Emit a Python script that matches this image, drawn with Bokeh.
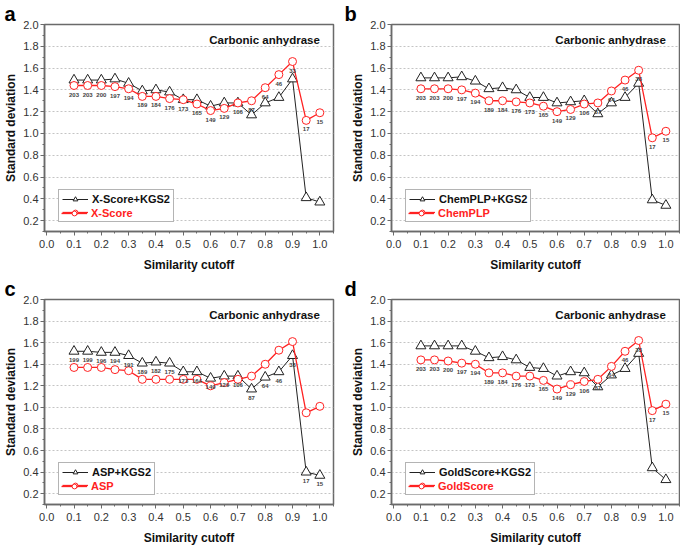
from bokeh.plotting import figure
from bokeh.models import (Legend, LegendItem, Label, Title, FixedTicker,
                          PrintfTickFormatter, Range1d)
from bokeh.layouts import column, row
from bokeh.embed import file_html
from bokeh.resources import INLINE
from bokeh.core.properties import value

# ---------------- data ----------------
cutoff = [0.10, 0.15, 0.20, 0.25, 0.30, 0.35, 0.40, 0.45, 0.50, 0.55,
          0.60, 0.65, 0.70, 0.75, 0.80, 0.85, 0.90, 0.95, 1.00]

xscore_kgs2 = [1.49, 1.49, 1.49, 1.50, 1.46, 1.39, 1.40, 1.38, 1.31, 1.31,
               1.25, 1.28, 1.28, 1.17, 1.28, 1.33, 1.50, 0.41, 0.37]
xscore = [1.44, 1.44, 1.44, 1.43, 1.41, 1.34, 1.34, 1.32, 1.31, 1.27,
          1.21, 1.23, 1.28, 1.30, 1.42, 1.54, 1.66, 1.12, 1.19]
counts_a = [203, 203, 200, 197, 194, 189, 184, 176, 173, 165,
            149, 129, 106, 87, 64, 46, 33, 17, 15]

chemplp_kgs2 = [1.51, 1.51, 1.51, 1.52, 1.48, 1.41, 1.42, 1.40, 1.33, 1.33,
                1.28, 1.29, 1.30, 1.18, 1.28, 1.33, 1.46, 0.39, 0.34]
chemplp = [1.41, 1.41, 1.41, 1.40, 1.37, 1.30, 1.30, 1.29, 1.28, 1.25,
           1.20, 1.22, 1.27, 1.28, 1.39, 1.49, 1.58, 0.96, 1.02]
counts_b = [203, 203, 200, 197, 194, 189, 184, 176, 173, 165,
            149, 129, 106, 87, 64, 46, 33, 17, 15]

asp_kgs2 = [1.52, 1.52, 1.51, 1.51, 1.48, 1.41, 1.42, 1.41, 1.33, 1.33,
            1.27, 1.29, 1.29, 1.17, 1.28, 1.33, 1.48, 0.40, 0.37]
asp = [1.37, 1.37, 1.37, 1.35, 1.34, 1.26, 1.26, 1.26, 1.26, 1.26,
       1.20, 1.23, 1.26, 1.29, 1.40, 1.53, 1.61, 0.95, 1.01]
counts_c = [199, 199, 196, 194, 191, 189, 182, 175, 173, 164,
            149, 129, 106, 87, 64, 46, 33, 17, 15]

goldscore_kgs2 = [1.57, 1.57, 1.57, 1.57, 1.52, 1.46, 1.47, 1.44, 1.37, 1.36,
                  1.29, 1.33, 1.32, 1.19, 1.30, 1.36, 1.50, 0.44, 0.33]
goldscore = [1.44, 1.44, 1.43, 1.41, 1.40, 1.32, 1.32, 1.29, 1.29, 1.25,
             1.17, 1.21, 1.24, 1.26, 1.38, 1.52, 1.62, 0.97, 1.03]
counts_d = [203, 203, 200, 197, 194, 189, 184, 176, 173, 165,
            149, 129, 106, 87, 64, 46, 33, 17, 15]

x_ticks = [0.0, 0.1, 0.2, 0.3, 0.4, 0.5, 0.6, 0.7, 0.8, 0.9, 1.0]
x_minor = [0.05, 0.15, 0.25, 0.35, 0.45, 0.55, 0.65, 0.75, 0.85, 0.95, 1.05]
y_ticks = [0.2, 0.4, 0.6, 0.8, 1.0, 1.2, 1.4, 1.6, 1.8, 2.0]
y_minor = [0.1, 0.3, 0.5, 0.7, 0.9, 1.1, 1.3, 1.5, 1.7, 1.9]

panel_title = "Carbonic anhydrase"
x_label = "Similarity cutoff"
y_label = "Standard deviation"

# ---------------- style ----------------
FONT = "Liberation Sans"
BLACK = "#222222"
RED = "#ff2222"
FRAME = "#6a6a6a"


def make_panel(letter, kgs, base, name_kgs, name_base, counts, label_on_kgs,
               width, height, bl, br, bt, bb):
    p = figure(width=width, height=height,
               x_range=Range1d(-0.008, 1.05), y_range=Range1d(0.1, 2.0),
               output_backend="svg", toolbar_location=None,
               min_border_left=bl, min_border_right=br,
               min_border_top=bt, min_border_bottom=bb,
               background_fill_color="white", border_fill_color="white")
    p.outline_line_color = FRAME
    p.outline_line_width = 1.5
    p.xgrid.grid_line_color = None
    p.ygrid.grid_line_color = "#c4c4c4"
    p.ygrid.grid_line_dash = "2 2"
    p.ygrid.grid_line_width = 1

    p.xaxis.ticker = FixedTicker(ticks=x_ticks, minor_ticks=x_minor)
    p.yaxis.ticker = FixedTicker(ticks=y_ticks, minor_ticks=y_minor)
    for ax in (p.xaxis[0], p.yaxis[0]):
        ax.formatter = PrintfTickFormatter(format="%.1f")
        ax.axis_line_color = FRAME
        ax.axis_line_width = 1.5
        ax.major_tick_line_color = FRAME
        ax.minor_tick_line_color = FRAME
        ax.major_tick_in = 0
        ax.major_tick_out = 4
        ax.minor_tick_in = 0
        ax.minor_tick_out = 2
        ax.major_label_text_font = FONT
        ax.major_label_text_font_size = "11px"
        ax.major_label_text_color = "#333333"
        ax.axis_label_text_font = FONT
        ax.axis_label_text_font_size = "12px"
        ax.axis_label_text_font_style = "bold"
        ax.axis_label_text_color = "#111111"
    p.xaxis.axis_label = x_label
    p.yaxis.axis_label = y_label
    p.xaxis.major_label_standoff = 4
    p.xaxis.axis_label_standoff = 7
    p.yaxis.major_label_standoff = 2
    p.yaxis.axis_label_standoff = 2

    kl = p.line(cutoff, kgs, line_color=BLACK, line_width=1)
    ks = p.scatter(cutoff, kgs, marker="triangle", size=10,
                   line_color=BLACK, fill_color="white", line_width=1)
    rl = p.line(cutoff, base, line_color=RED, line_width=1.3)
    rs = p.scatter(cutoff, base, marker="circle", size=8,
                   line_color=RED, fill_color="white", line_width=1)

    ref = kgs if label_on_kgs else base
    p.text(x=cutoff, y=ref, text=[str(c) for c in counts],
           text_font=value(FONT), text_font_size="6px", text_font_style="bold",
           text_color="#444444", text_align="center", text_baseline="middle",
           y_offset=9)

    p.add_layout(Label(x=1.0, y=1.855, text=panel_title, text_font=FONT,
                       text_font_size="11.5px", text_font_style="bold",
                       text_color="#111111", text_align="right",
                       text_baseline="middle"))
    # panel letter as a title (side panels are not clipped to the frame)
    p.add_layout(Title(text=letter, align="left", offset=-(bl - 4), standoff=0,
                       text_font=FONT, text_font_size="20px",
                       text_font_style="bold", text_color="#000000",
                       text_line_height=0.8), "above")

    common = dict(location=(14, 9), glyph_width=26, glyph_height=12,
                  label_height=12, label_standoff=4, padding=3, spacing=1,
                  margin=0, label_text_font=FONT, label_text_font_size="11px",
                  label_text_font_style="bold")
    leg_a = Legend(items=[LegendItem(label=name_kgs, renderers=[kl, ks]),
                          LegendItem(label=" ", renderers=[rl, rs])],
                   border_line_color=FRAME, border_line_width=1,
                   background_fill_color="white", background_fill_alpha=1,
                   label_text_color="#111111", **common)
    leg_b = Legend(items=[LegendItem(label=name_base, renderers=[rl, rs])],
                   border_line_alpha=0, background_fill_alpha=0,
                   label_text_color=RED, **common)
    p.add_layout(leg_a)
    p.add_layout(leg_b)
    return p


pa = make_panel("a", xscore_kgs2, xscore, "X-Score+KGS2", "X-Score", counts_a, False,
                340, 275, 44, 7, 19, 44)
pb = make_panel("b", chemplp_kgs2, chemplp, "ChemPLP+KGS2", "ChemPLP", counts_b, False,
                340, 275, 51, 1, 19, 44)
pc = make_panel("c", asp_kgs2, asp, "ASP+KGS2", "ASP", counts_c, True,
                340, 273, 44, 7, 19, 44)
pd = make_panel("d", goldscore_kgs2, goldscore, "GoldScore+KGS2", "GoldScore", counts_d, False,
                340, 273, 51, 1, 19, 44)

layout = column(row(pa, pb), row(pc, pd))

open("out.html", "w").write(file_html(layout, INLINE))
